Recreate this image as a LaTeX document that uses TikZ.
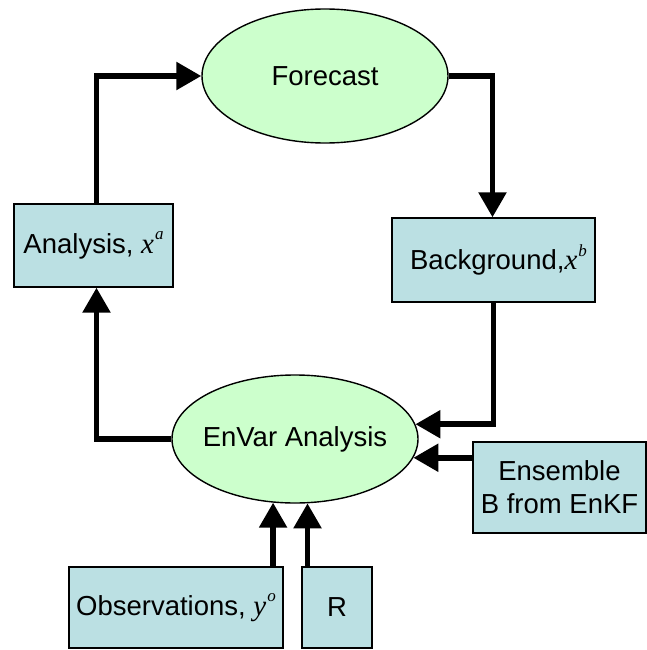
\documentclass[tikz,border=0pt]{standalone}
\usepackage{fontspec}
\setmainfont{Liberation Sans}
\newfontfamily\tnr{Liberation Serif}
\usetikzlibrary{shapes.geometric,arrows.meta}
\definecolor{boxfill}{HTML}{BBE0E3}
\definecolor{ellfill}{HTML}{CCFFCC}
\newcommand\vsup[2]{{\tnr\itshape\fontsize{29}{29}\selectfont #1}\kern1pt\raisebox{0.5em}{\tnr\itshape\fontsize{17}{17}\selectfont #2}}
\begin{document}
\begin{tikzpicture}[x=1pt,y=-1pt,
  box/.style={draw=black,line width=1.4pt,fill=boxfill,rectangle,inner sep=0pt,align=center,
    font=\fontsize{27.5}{33}\selectfont},
  ell/.style={draw=black,line width=1.4pt,fill=ellfill,ellipse,inner sep=0pt,
    minimum width=246pt,minimum height=130pt},
  lbl/.style={font=\fontsize{27.5}{33}\selectfont,inner sep=0pt},
  arr/.style={line width=5.5pt,-{Triangle[width=27pt,length=25pt]}}]
\useasboundingbox (0,0) rectangle (647,650);
% nodes
\node[ell,minimum height=134pt] (forecast) at (325,76) {};
\node[lbl] (forecastlbl) at (forecast.center) {Forecast};
\node[ell,minimum height=128pt] (envar) at (295,439) {};
\node[lbl] (envarlbl) at (envar.center) {EnVar Analysis};
\node[box,minimum width=159pt,minimum height=83pt] (analysis) at (93.5,245.5) {Analysis, \vsup{x}{a}};
\node[box,minimum width=203pt,minimum height=84pt] (bg) at (493.5,260) {\hspace*{10pt}Background,\vsup{x}{b}};
\node[box,minimum width=173pt,minimum height=91pt] (ens) at (559.5,487.5) {Ensemble\\B from EnKF};
\node[box,minimum width=214pt,minimum height=81pt] (obs) at (176,607.5) {Observations, \vsup{y}{o}};
\node[box,minimum width=70pt,minimum height=81pt] (r) at (337,607.5) {R};
% connectors
\draw[arr] ([xshift=3pt]analysis.north) |- (forecast.west);
\draw[arr] (forecast.east) -| ([xshift=-1pt]bg.north);
\draw[arr] (bg.south) |- (envar.7.66);
\draw[arr] (ens.west |- envar.-9.2) -- (envar.-9.2);
\draw[arr] (envar.west) -| ([xshift=3pt]analysis.south);
\draw[arr] (obs.north -| envar.251.6) -- (envar.251.6);
\draw[arr] (r.north -| envar.281.6) -- (envar.281.6);
\end{tikzpicture}
\end{document}
